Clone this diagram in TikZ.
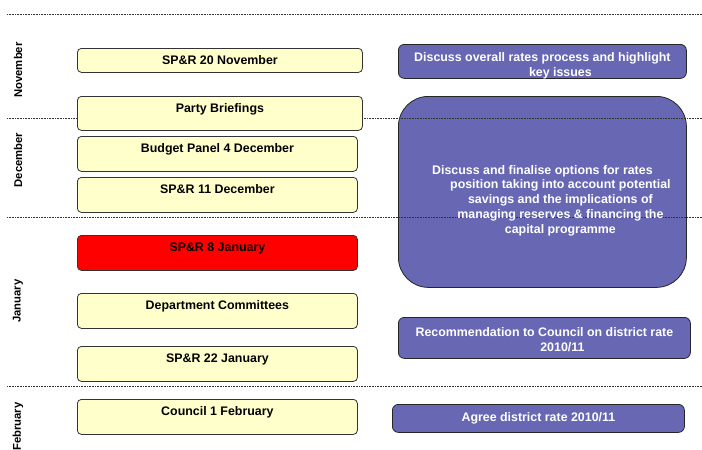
\documentclass[tikz,border=0pt]{standalone}
\usepackage{fontspec}
\setmainfont{Liberation Sans}
\definecolor{notepad}{HTML}{FFFFCC}
\definecolor{slate}{HTML}{6767B4}
% later lines of a purple note sit a little to the right
\newcommand{\indline}{\\\hspace*{36pt}}

\begin{document}
\begin{tikzpicture}[x=1pt,y=-1pt]
   \tikzstyle{meeting}=[draw=black!80, fill=notepad, rounded corners=4pt, line width=0.8pt, font=\bfseries\fontsize{12.4}{14.5}\selectfont, inner xsep=0pt, inner ysep=8pt, text height=8pt, text depth=11pt, anchor=north west]
   \tikzstyle{note}=[draw=black!85, fill=slate, rounded corners=6pt, line width=0.8pt, inner sep=0pt, anchor=north west]
   \tikzstyle{notetext}=[text=white, font=\bfseries\fontsize{12.4}{14.75}\selectfont, align=center, inner sep=0pt]
   \tikzstyle{month}=[rotate=90, font=\bfseries\fontsize{11.3}{13}\selectfont, inner sep=0pt]
   \tikzstyle{split}=[black!80, line width=0.8pt, dash pattern=on 0.8pt off 0.8pt]

\useasboundingbox (0,0) rectangle (702,450);

% right column
\node[note, minimum width=288, minimum height=34] (discuss) at (398,44) {};
\node[note, minimum width=288, minimum height=191, rounded corners=30pt] (finalise) at (398,96) {};
\node[note, minimum width=292, minimum height=41] (recommend) at (398,317) {};
\node[note, minimum width=292, minimum height=28] (agree) at (392,404) {};

% month separators
\foreach \y in {14,118,217,386}
   \draw[split] (7,\y) -- (702,\y);

\node[notetext] (discussText) at ([yshift=-4.5pt]discuss.center) {Discuss overall rates process and highlight\indline key issues};
\node[notetext] (finaliseText) at ([yshift=-8.5pt]finalise.center)
   {Discuss and finalise options for rates\indline position taking into account potential\indline savings and the implications of\indline managing reserves \& financing the\indline capital programme};
\node[notetext] (recommendText) at ([yshift=-1.5pt]recommend.center) {Recommendation to Council on district rate\indline 2010/11};
\node[notetext] (agreeText) at (agree.center) {Agree district rate 2010/11};

% left column
\node[meeting, minimum width=285, text depth=0pt] (nov20) at (77,48) {SP\&R 20 November};
\node[meeting, minimum width=285, text depth=10pt] (briefings) at (77,96) {Party Briefings};
\node[meeting, minimum width=280] (panel) at (77,136) {Budget Panel 4 December};
\node[meeting, minimum width=280] (dec11) at (77,177) {SP\&R 11 December};
\node[meeting, minimum width=280, fill=red] (jan8) at (77,235) {SP\&R 8 January};
\node[meeting, minimum width=280] (committees) at (77,293) {Department Committees};
\node[meeting, minimum width=280] (jan22) at (77,346) {SP\&R 22 January};
\node[meeting, minimum width=280] (council) at (77,399) {Council 1 February};

% months
\node[month] (nov) at (18,70) {November};
\node[month] (dec) at (18,160) {December};
\node[month] (jan) at (18,301) {January};
\node[month] (feb) at (18,426.5) {February};

\end{tikzpicture}
\end{document}
